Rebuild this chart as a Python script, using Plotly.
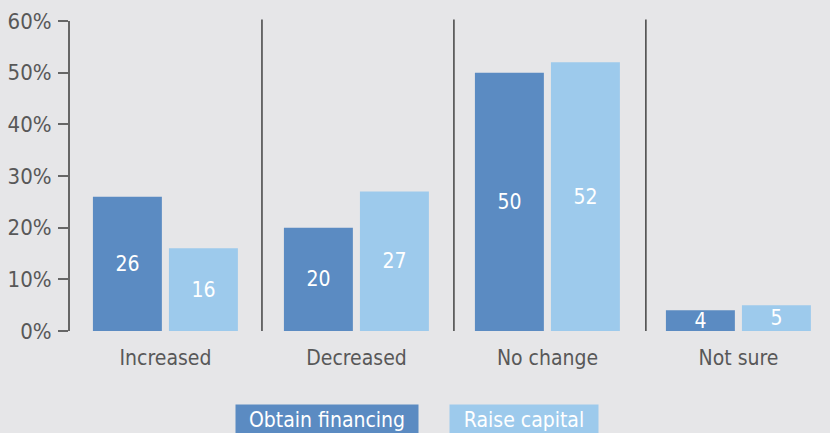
import plotly.graph_objects as go

categories = ["Increased", "Decreased", "No change", "Not sure"]
obtain_financing = [26, 20, 50, 4]
raise_capital = [16, 27, 52, 5]
y_ticks = [0, 10, 20, 30, 40, 50, 60]
y_tick_labels = ["0%", "10%", "20%", "30%", "40%", "50%", "60%"]

DARK = "#5b8bc2"
LIGHT = "#9dcaec"
BG = "#e6e6e8"
GREY = "#585858"
FONT = "DejaVu Sans Condensed, Liberation Sans Narrow, sans-serif"

fig = go.Figure()
fig.add_trace(go.Bar(
    x=categories, y=obtain_financing, name="Obtain financing",
    marker=dict(color=DARK, line=dict(width=0)),
    width=0.361, offset=-0.38,
    text=obtain_financing, textposition="inside", insidetextanchor="middle",
    textangle=0, textfont=dict(color="white", size=21, family=FONT),
))
fig.add_trace(go.Bar(
    x=categories, y=raise_capital, name="Raise capital",
    marker=dict(color=LIGHT, line=dict(width=0)),
    width=0.361, offset=0.018,
    text=raise_capital, textposition="inside", insidetextanchor="middle",
    textangle=0, textfont=dict(color="white", size=21, family=FONT),
))

# group separators
for xv in [0.505, 1.51, 2.515]:
    fig.add_shape(type="line", xref="x", yref="paper", x0=xv, x1=xv, y0=0, y1=1.005,
                  line=dict(color="#4d4d4d", width=1.6))

# legend drawn as coloured boxes (label, colour, centre px, box width px)
legend_items = [("Obtain financing", DARK, 327, 182), ("Raise capital", LIGHT, 524, 148)]
for label, col, cx, w in legend_items:
    fig.add_annotation(
        text=label, xref="paper", yref="paper",
        x=(cx - 70) / 760, y=-(404 - 331) / 310,
        xanchor="center", yanchor="top", showarrow=False,
        bgcolor=col, borderpad=3, width=w - 6, height=34, valign="top",
        font=dict(color="white", size=21, family=FONT),
    )

fig.update_layout(
    width=830, height=433,
    margin=dict(l=70, r=0, t=21, b=102),
    paper_bgcolor=BG, plot_bgcolor=BG,
    showlegend=False,
    font=dict(family=FONT, size=21, color=GREY),
    uniformtext=dict(minsize=21, mode="show"),
    xaxis=dict(range=[-0.5, -0.5 + 760 / 191], showgrid=False, showline=False,
               ticks="", ticklabelstandoff=12, tickfont=dict(size=21, color=GREY)),
    yaxis=dict(range=[0, 60], tickvals=y_ticks, ticktext=y_tick_labels,
               showgrid=False, zeroline=False, showline=True, linecolor="#666666",
               linewidth=2, ticks="outside", ticklen=10, tickwidth=1.5,
               tickcolor="#666666", ticklabelstandoff=2,
               tickfont=dict(size=22, color=GREY)),
)

fig.write_html("out.html", config={"displayModeBar": False},
               post_script="document.body.style.margin='0';")
